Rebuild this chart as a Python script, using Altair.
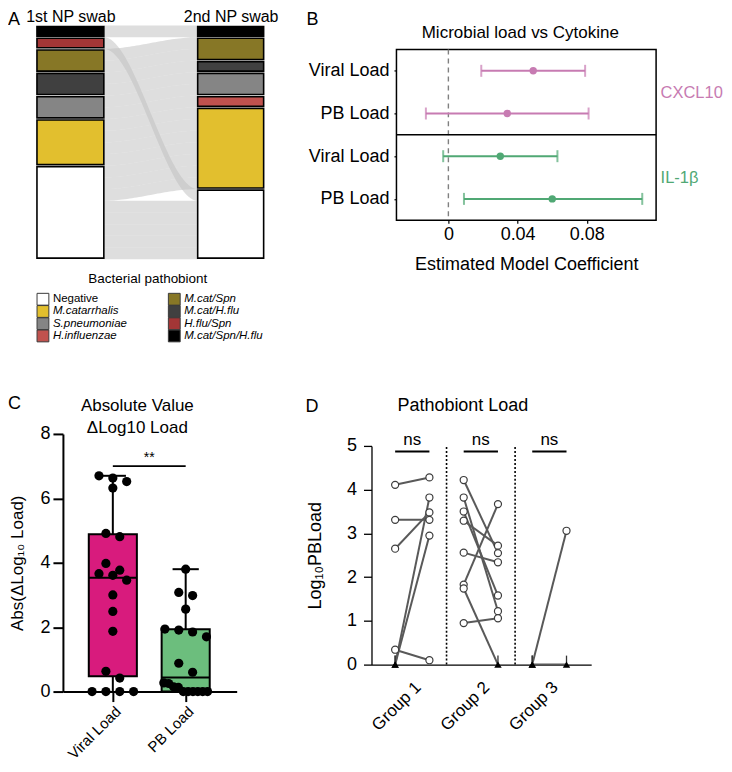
import json
import numpy as np
import pandas as pd
import altair as alt

FONT = "Liberation Sans"

# ---------------- Panel A: alluvial of pathobionts ----------------
swab_labels = ["1st NP swab", "2nd NP swab"]
categories = ["Negative", "M.catarrhalis", "S.pneumoniae", "H.influenzae",
              "M.cat/Spn", "M.cat/H.flu", "H.flu/Spn", "M.cat/Spn/H.flu"]
category_colors = ["#ffffff", "#e2bf2e", "#858585", "#c0524e",
                   "#877726", "#404040", "#a33636", "#000000"]
stack_order = ["M.cat/Spn/H.flu", "H.flu/Spn", "M.cat/Spn", "M.cat/H.flu",
               "S.pneumoniae", "H.influenzae", "M.catarrhalis", "Negative"]
first_swab = ["M.cat/Spn/H.flu", "H.flu/Spn", "M.cat/Spn", "M.cat/Spn",
              "M.cat/H.flu", "M.cat/H.flu", "S.pneumoniae", "S.pneumoniae",
              "M.catarrhalis", "M.catarrhalis", "M.catarrhalis", "M.catarrhalis",
              "Negative", "Negative", "Negative", "Negative",
              "Negative", "Negative", "Negative", "Negative"]
second_swab = ["M.cat/Spn/H.flu", "Negative", "M.cat/Spn", "M.cat/Spn",
               "M.cat/H.flu", "S.pneumoniae", "S.pneumoniae", "H.influenzae",
               "M.catarrhalis", "M.catarrhalis", "M.catarrhalis", "M.catarrhalis",
               "M.catarrhalis", "M.catarrhalis", "M.catarrhalis", "Negative",
               "Negative", "Negative", "Negative", "Negative"]
legend_title = "Bacterial pathobiont"

# ---------------- Panel B: model coefficients ----------------
cytokines = ["CXCL10", "IL-1β"]
cytokine_colors = ["#c77bb2", "#50a874"]
predictors = ["Viral Load", "PB Load"]
coef_estimate = [0.049, 0.034, 0.030, 0.060]
coef_low = [0.019, -0.013, -0.003, 0.009]
coef_high = [0.079, 0.081, 0.063, 0.112]
coef_ticks = [0, 0.04, 0.08]
b_title = "Microbial load vs Cytokine"
b_xtitle = "Estimated Model Coefficient"

# ---------------- Panel C: absolute change ----------------
load_types = ["Viral Load", "PB Load"]
load_colors = ["#d81b7d", "#6cbe7d"]
viral_abs_dlog = [6.70, 6.63, 6.52, 6.32, 4.91, 4.81, 3.98, 3.77, 3.66, 3.61,
                  3.46, 3.00, 2.49, 1.87, 0.63, 0.42, 0, 0, 0, 0]
pb_abs_dlog = [3.80, 3.08, 2.98, 2.56, 1.94, 1.91, 1.85, 1.70, 0.88, 0.60,
               0.27, 0.25, 0.15, 0.13, 0, 0, 0, 0, 0, 0]
c_ticks = [0, 2, 4, 6, 8]
c_sig_label = "**"
c_sig_y = 7.0
c_title = ["Absolute Value", "ΔLog10 Load"]
c_ytitle = "Abs(ΔLog₁₀ Load)"

# ---------------- Panel D: paired pathobiont load ----------------
group_labels = ["Group 1", "Group 2", "Group 3"]
group1_pre = [4.11, 3.31, 2.65, 0.34, 0, 0]
group1_post = [4.28, 3.31, 3.48, 0.10, 3.82, 2.95]
group2_pre = [4.22, 3.82, 3.50, 3.29, 2.56, 1.83, 1.74, 0.95]
group2_post = [2.55, 1.22, 1.58, 2.72, 2.34, 3.67, 0, 1.06]
group3_pre = [0, 0]
group3_post = [3.06, 0]
d_ticks = [0, 1, 2, 3, 4, 5]
d_sig_labels = ["ns", "ns", "ns"]
d_sig_y = 4.87
d_title = "Pathobiont Load"
d_ytitle = "Log₁₀PBLoad"

LETTER = 18

# ======================= Panel A =======================
BAR_X = [(0.0, 0.295), (0.709, 1.0)]
rank = {c: i for i, c in enumerate(stack_order)}
n_pat = len(first_swab)
seg_rows = []
for s, swab in enumerate([first_swab, second_swab]):
    y = 0
    for c in stack_order:
        k = swab.count(c)
        if k:
            seg_rows.append({"swab": swab_labels[s], "category": c,
                             "x0": BAR_X[s][0], "x1": BAR_X[s][1],
                             "y0": y, "y1": y + k})
            y += k
seg_df = pd.DataFrame(seg_rows)

left_order = sorted(range(n_pat), key=lambda i: (rank[first_swab[i]], rank[second_swab[i]], i))
right_order = sorted(range(n_pat), key=lambda i: (rank[second_swab[i]], rank[first_swab[i]], i))
lpos = {p: k for k, p in enumerate(left_order)}
rpos = {p: k for k, p in enumerate(right_order)}
xa, xb = BAR_X[0][1], BAR_X[1][0]
flow_rows = []
for p in range(n_pat):
    for t in np.linspace(0, 1, 41):
        s = t * t * (3 - 2 * t)
        top = lpos[p] + s * (rpos[p] - lpos[p])
        flow_rows.append({"patient": p, "x": float(xa + t * (xb - xa)),
                          "y0": float(top), "y1": float(top + 1)})
flow_df = pd.DataFrame(flow_rows)

cat_scale = alt.Scale(domain=categories, range=category_colors)
a_xscale = alt.Scale(domain=[0, 1], nice=False, zero=False)
a_yscale = alt.Scale(domain=[0, n_pat], reverse=True, nice=False, zero=False)
swab_centers = [(BAR_X[0][0] + BAR_X[0][1]) / 2, (BAR_X[1][0] + BAR_X[1][1]) / 2]
a_xaxis = alt.Axis(orient="top", values=swab_centers,
                   labelExpr=f"datum.value < 0.5 ? {json.dumps(swab_labels[0])} : {json.dumps(swab_labels[1])}",
                   domain=False, ticks=False, title=None, labelFontSize=16,
                   labelPadding=1, labelFlush=False)

a_flows = alt.Chart(flow_df).mark_area(color="#bdbdbd", opacity=0.5).encode(
    x=alt.X("x:Q", scale=a_xscale, axis=a_xaxis),
    y=alt.Y("y0:Q", scale=a_yscale, axis=None),
    y2="y1:Q",
    detail="patient:N",
)
a_segs = alt.Chart(seg_df).mark_rect(stroke="black", strokeWidth=1.6,
                                     yOffset=1.1, y2Offset=-1.1).encode(
    x=alt.X("x0:Q", scale=a_xscale, axis=a_xaxis),
    x2="x1:Q",
    y=alt.Y("y0:Q", scale=a_yscale, axis=None),
    y2="y1:Q",
    color=alt.Color("category:N", scale=cat_scale, legend=None),
)
panel_a = alt.layer(a_flows, a_segs).properties(
    width=227, height=234,
    title=alt.TitleParams("A", anchor="start", frame="group", dx=-29, offset=-20,
                          fontSize=LETTER),
)

# legend of panel A (two columns, italic species names)
leg_df = pd.DataFrame({"category": categories,
                       "col": [i // 4 for i in range(len(categories))],
                       "row": [i % 4 for i in range(len(categories))]})
lx = alt.X("col:O", scale=alt.Scale(type="point", domain=[0, 1], range=[6, 137.5], padding=0), axis=None)
ly = alt.Y("row:O", scale=alt.Scale(type="point", domain=[0, 1, 2, 3], padding=0.5), axis=None)
leg_sq = alt.Chart(leg_df).mark_square(size=140, stroke="#3a3a3a", strokeWidth=1, opacity=1).encode(
    x=lx, y=ly, color=alt.Color("category:N", scale=cat_scale, legend=None))
leg_it = alt.Chart(leg_df).transform_filter(alt.datum.category != categories[0]).mark_text(
    align="left", baseline="middle", dx=10, fontSize=11.5, fontStyle="italic").encode(
    x=lx, y=ly, text="category:N")
leg_nm = alt.Chart(leg_df).transform_filter(alt.datum.category == categories[0]).mark_text(
    align="left", baseline="middle", dx=10, fontSize=11.5).encode(
    x=lx, y=ly, text="category:N")
panel_leg = alt.layer(leg_sq, leg_it, leg_nm).properties(
    width=227, height=49,
    title=alt.TitleParams(legend_title, fontSize=13.5, offset=6, dx=-2.5, frame="group"),
)

# ======================= Panel B =======================
b_rows = []
for i, cyt in enumerate(cytokines):
    for j, pred in enumerate(predictors):
        k = i * len(predictors) + j
        b_rows.append({"row": k, "cytokine": cyt, "predictor": pred,
                       "est": coef_estimate[k], "lo": coef_low[k], "hi": coef_high[k]})
b_df = pd.DataFrame(b_rows)
n_rows = len(b_rows)
row_labels = [r["predictor"] for r in b_rows]
b_xscale = alt.Scale(domain=[-0.03, 0.12], nice=False, zero=False)
b_yscale = alt.Scale(domain=[-0.5, n_rows - 0.5], reverse=True, nice=False, zero=False)
b_xaxis = alt.Axis(values=coef_ticks, format="~g", tickSize=3, tickWidth=1.2, domain=False,
                   labelFontSize=18, labelPadding=2, title=b_xtitle, titleFontSize=18,
                   titleFontWeight="normal", titlePadding=12, labelFlush=False)
b_yaxis = alt.Axis(values=list(range(n_rows)),
                   labelExpr=f"{json.dumps(row_labels)}[datum.value]",
                   tickSize=2.5, tickWidth=1.2, domain=False, labelFontSize=18,
                   labelPadding=5, title=None)
b_color = alt.Color("cytokine:N", scale=alt.Scale(domain=cytokines, range=cytokine_colors), legend=None)

b_zero = alt.Chart(pd.DataFrame({"ref": [0.0]})).mark_rule(
    color="#808080", strokeDash=[5, 4], strokeWidth=1.4).encode(
    x=alt.X("ref:Q", scale=b_xscale, axis=b_xaxis))
b_div = alt.Chart(pd.DataFrame({"split": [len(predictors) - 0.5]})).mark_rule(
    color="black", strokeWidth=1.5).encode(
    y=alt.Y("split:Q", scale=b_yscale, axis=b_yaxis))
b_err = alt.Chart(b_df).mark_rule(strokeWidth=2).encode(
    x=alt.X("lo:Q", scale=b_xscale, axis=b_xaxis), x2="hi:Q",
    y=alt.Y("row:Q", scale=b_yscale, axis=b_yaxis), color=b_color)
b_caps = alt.Chart(b_df).transform_fold(["lo", "hi"], as_=["end", "val"]).mark_tick(
    orient="vertical", size=12, thickness=2).encode(
    x=alt.X("val:Q", scale=b_xscale, axis=b_xaxis),
    y=alt.Y("row:Q", scale=b_yscale, axis=b_yaxis), color=b_color)
b_pts = alt.Chart(b_df).mark_circle(size=55, opacity=1).encode(
    x=alt.X("est:Q", scale=b_xscale, axis=b_xaxis),
    y=alt.Y("row:Q", scale=b_yscale, axis=b_yaxis), color=b_color)

mids = [float(i * len(predictors) + (len(predictors) - 1) / 2) for i in range(len(cytokines))]
cyt_df = pd.DataFrame({"cytokine": cytokines, "mid": mids})
b_right = alt.Chart(cyt_df).mark_point(opacity=0).encode(
    y=alt.Y("mid:Q", scale=b_yscale, axis=alt.Axis(
        orient="right", values=mids,
        labelExpr=f"{json.dumps(cytokines, ensure_ascii=False)}[floor(datum.value / {len(predictors)})]",
        labelColor={"condition": {"test": f"datum.value < {len(predictors)}", "value": cytokine_colors[0]},
                    "value": cytokine_colors[1]},
        ticks=False, domain=False, labelFontSize=16.5, labelPadding=4, title=None)))

panel_b = alt.layer(alt.layer(b_zero, b_div, b_err, b_caps, b_pts), b_right).resolve_scale(
    y="independent").properties(
    width=260, height=171,
    view=alt.ViewBackground(stroke="black", strokeWidth=1.5),
)

# spacer above B carrying the panel letter and the panel heading
space_b = alt.Chart(pd.DataFrame({"ref": [0.0]})).mark_point(opacity=0).encode(
    x=alt.X("ref:Q", scale=alt.Scale(domain=[0, 1]), axis=alt.Axis(
        orient="bottom", domain=False, ticks=False, labels=False, title=b_title,
        titleFontSize=17, titleFontWeight="normal", titlePadding=-22.5, titleX=123.5,
        minExtent=0))
).properties(width=260, height=22,
             title=alt.TitleParams("B", anchor="start", frame="group", dx=-90, offset=-5,
                                   fontSize=LETTER))

# ======================= Panel C =======================
BOX_HALF = 0.33
CAP_HALF = 0.18


def swarm(values, step=0.19, tol=0.28, max_span=0.6):
    order = sorted(range(len(values)), key=lambda i: -values[i])
    offs = [0.0] * len(values)
    bins = []
    for i in order:
        if bins and bins[-1][0] - values[i] <= tol:
            bins[-1][1].append(i)
        else:
            bins.append([values[i], [i]])
    for _, idx in bins:
        k = len(idx)
        st = min(step, max_span / (k - 1)) if k > 1 else step
        for j, i in enumerate(idx):
            offs[i] = (j - (k - 1) / 2) * st
    return offs


c_stats, c_pts = [], []
for gi, vals in enumerate([viral_abs_dlog, pb_abs_dlog]):
    arr = np.array(vals, dtype=float)
    q1, med, q3 = np.percentile(arr, [25, 50, 75], method="weibull")
    c_stats.append({"idx": gi, "name": load_types[gi], "q1": float(q1), "med": float(med),
                    "q3": float(q3), "vmin": float(arr.min()), "vmax": float(arr.max()),
                    "b0": gi - BOX_HALF, "b1": gi + BOX_HALF,
                    "c0": gi - CAP_HALF, "c1": gi + CAP_HALF})
    for v, o in zip(vals, swarm(vals)):
        c_pts.append({"name": load_types[gi], "value": float(v), "xpos": gi + o})
c_stats_df = pd.DataFrame(c_stats)
c_pts_df = pd.DataFrame(c_pts)
c_sig_df = pd.DataFrame({"x0": [0], "x1": [1], "xm": [0.5], "y": [c_sig_y], "label": [c_sig_label]})

C_INSET = 26  # the C axes sit this far right of the shared column edge
c_xscale = alt.Scale(domain=[-0.685, 1.70], range=[C_INSET, 200], nice=False, zero=False)
c_yscale = alt.Scale(domain=[c_ticks[0], c_ticks[-1]], nice=False, zero=False)
c_xaxis = alt.Axis(values=[0, 1], labelExpr=f"{json.dumps(load_types)}[datum.value]",
                   labelAngle=-45, tickSize=10, tickWidth=2, domainWidth=2,
                   labelFontSize=15, labelPadding=2, title=None, labelFlush=False)
c_yaxis = alt.Axis(values=c_ticks, tickSize=10, tickWidth=2, domainWidth=2, offset=-C_INSET,
                   labelFontSize=18, labelPadding=3, title=c_ytitle, titleFontSize=17,
                   titleFontWeight="normal", titlePadding=13, labelFlush=False)
c_fill = alt.Color("name:N", scale=alt.Scale(domain=load_types, range=load_colors), legend=None)


def cX(f):
    return alt.X(f, scale=c_xscale, axis=c_xaxis)


def cY(f):
    return alt.Y(f, scale=c_yscale, axis=c_yaxis)


c_whisk = alt.Chart(c_stats_df).mark_rule(color="black", strokeWidth=2).encode(
    x=cX("idx:Q"), y=cY("vmin:Q"), y2="vmax:Q")
c_box = alt.Chart(c_stats_df).mark_rect(stroke="black", strokeWidth=2).encode(
    x=cX("b0:Q"), x2="b1:Q", y=cY("q1:Q"), y2="q3:Q", color=c_fill)
c_med = alt.Chart(c_stats_df).mark_rule(color="black", strokeWidth=2).encode(
    x=cX("b0:Q"), x2="b1:Q", y=cY("med:Q"))
c_cap = alt.Chart(c_stats_df).mark_rule(color="black", strokeWidth=2).encode(
    x=cX("c0:Q"), x2="c1:Q", y=cY("vmax:Q"))
c_dots = alt.Chart(c_pts_df).mark_circle(size=85, color="black", opacity=1).encode(
    x=cX("xpos:Q"), y=cY("value:Q"))
c_sigr = alt.Chart(c_sig_df).mark_rule(color="black", strokeWidth=1.6).encode(
    x=cX("x0:Q"), x2="x1:Q", y=cY("y:Q"))
c_sigt = alt.Chart(c_sig_df).mark_text(fontSize=14, dy=-8).encode(
    x=cX("xm:Q"), y=cY("y:Q"), text="label:N")
c_top = alt.Chart(pd.DataFrame({"ref": [0.0]})).mark_point(opacity=0).encode(
    x=alt.X("ref:Q", scale=alt.Scale(domain=[0, 1]), axis=alt.Axis(
        orient="top", domain=False, ticks=False, labels=False, title=c_title,
        titleFontSize=17, titleLineHeight=22, titleFontWeight="normal",
        titlePadding=-3, titleX=100, minExtent=0)))
panel_c = alt.layer(
    alt.layer(c_whisk, c_box, c_med, c_cap, c_sigr, c_sigt, c_dots), c_top
).resolve_scale(x="independent").properties(
    width=200, height=258,
    title=alt.TitleParams("C", anchor="start", frame="group", dx=-29, offset=-16, fontSize=LETTER),
)

# ======================= Panel D =======================
d_pre = [group1_pre, group2_pre, group3_pre]
d_post = [group1_post, group2_post, group3_post]
d_rows = []
pid = 0
for g in range(len(group_labels)):
    for a, b in zip(d_pre[g], d_post[g]):
        d_rows.append({"pid": pid, "x": 2 * g, "value": float(a)})
        d_rows.append({"pid": pid, "x": 2 * g + 1, "value": float(b)})
        pid += 1
d_df = pd.DataFrame(d_rows)
sep_df = pd.DataFrame({"x": [2 * g + 1.5 for g in range(len(group_labels) - 1)],
                       "y0": d_ticks[0], "y1": d_ticks[-1]})
ns_df = pd.DataFrame({"x0": [2 * g for g in range(len(group_labels))],
                      "x1": [2 * g + 1 for g in range(len(group_labels))],
                      "xm": [2 * g + 0.5 for g in range(len(group_labels))],
                      "y": d_sig_y, "label": d_sig_labels})

d_xscale = alt.Scale(domain=[-0.69, 5.72], nice=False, zero=False)
d_yscale = alt.Scale(domain=[d_ticks[0], d_ticks[-1]], nice=False, zero=False)
d_xaxis = alt.Axis(values=[2 * g + 0.5 for g in range(len(group_labels))],
                   labelExpr=f"{json.dumps(group_labels)}[floor(datum.value / 2)]",
                   labelAngle=-45, ticks=False, domainWidth=1.3, labelFontSize=17,
                   labelPadding=14, title=None, labelFlush=False)
d_yaxis = alt.Axis(values=d_ticks, tickSize=8, tickWidth=1.3, domainWidth=1.3,
                   labelFontSize=18, labelPadding=7, title=d_ytitle, titleFontSize=18,
                   titleFontWeight="normal", titlePadding=22, labelFlush=False)


def dX(f):
    return alt.X(f, scale=d_xscale, axis=d_xaxis)


def dY(f):
    return alt.Y(f, scale=d_yscale, axis=d_yaxis)


d_sep = alt.Chart(sep_df).mark_rule(color="black", strokeDash=[2, 2], strokeWidth=1.6).encode(
    x=dX("x:Q"), y=dY("y0:Q"), y2="y1:Q")
d_lines = alt.Chart(d_df).mark_line(color="#595959", strokeWidth=2).encode(
    x=dX("x:Q"), y=dY("value:Q"), detail="pid:N")
d_zt = alt.Chart(d_df).transform_filter(alt.datum.value == 0).mark_rule(
    color="#333333", strokeWidth=1.3, y2Offset=-9).encode(
    x=dX("x:Q"), y=dY("value:Q"), y2="value:Q")
d_circ = alt.Chart(d_df).transform_filter(alt.datum.value > 0).mark_point(
    shape="circle", filled=True, fill="white", stroke="#3c3c3c", strokeWidth=1.2,
    size=50, opacity=1).encode(x=dX("x:Q"), y=dY("value:Q"))
d_tri = alt.Chart(d_df).transform_filter(alt.datum.value == 0).mark_point(
    shape="triangle-up", filled=True, color="black", size=55, opacity=1).encode(
    x=dX("x:Q"), y=dY("value:Q"))
d_nsr = alt.Chart(ns_df).mark_rule(color="black", strokeWidth=2).encode(
    x=dX("x0:Q"), x2="x1:Q", y=dY("y:Q"))
d_nst = alt.Chart(ns_df).mark_text(fontSize=17, dy=-12).encode(
    x=dX("xm:Q"), y=dY("y:Q"), text="label:N")
d_top = alt.Chart(pd.DataFrame({"ref": [0.0]})).mark_point(opacity=0).encode(
    x=alt.X("ref:Q", scale=alt.Scale(domain=[0, 1]), axis=alt.Axis(
        orient="top", domain=False, ticks=False, labels=False, title=d_title,
        titleFontSize=18, titleFontWeight="normal", titlePadding=31, titleX=91,
        minExtent=0)))
panel_d = alt.layer(
    alt.layer(d_sep, d_lines, d_zt, d_circ, d_tri, d_nsr, d_nst), d_top
).resolve_scale(x="independent").properties(
    width=220, height=219,
    title=alt.TitleParams("D", anchor="start", frame="group", dx=-66, offset=-19, fontSize=LETTER),
)


# ======================= Layout =======================
def spacer(w, h):
    return alt.Chart(pd.DataFrame({"v": [0]})).mark_point(opacity=0).encode(
        x=alt.value(0), y=alt.value(0)).properties(width=w, height=h)


col_a = alt.vconcat(panel_a, panel_leg, spacing=12)
col_b = alt.vconcat(space_b, panel_b, spacing=0).resolve_scale(color="independent")
col_c = alt.vconcat(spacer(1, 1), panel_c, spacing=0).resolve_scale(color="independent")
col_d = alt.vconcat(spacer(1, 4.8), panel_d, spacing=0)

top_row = alt.hconcat(col_a, col_b, spacing=28).resolve_scale(color="independent")
bottom_row = alt.hconcat(col_c, col_d, spacing=69).resolve_scale(color="independent")

chart = alt.vconcat(top_row, bottom_row, spacing=45).resolve_scale(
    color="independent"
).properties(padding=0).configure_view(strokeWidth=0).configure_axis(
    labelFont=FONT, titleFont=FONT, labelColor="black", titleColor="black",
    tickColor="black", domainColor="black", grid=False, labelOverlap=False,
).configure_title(font=FONT, color="black", fontWeight="normal").configure_text(font=FONT)

chart.save("out.html", embed_options={"renderer": "svg", "actions": False})
